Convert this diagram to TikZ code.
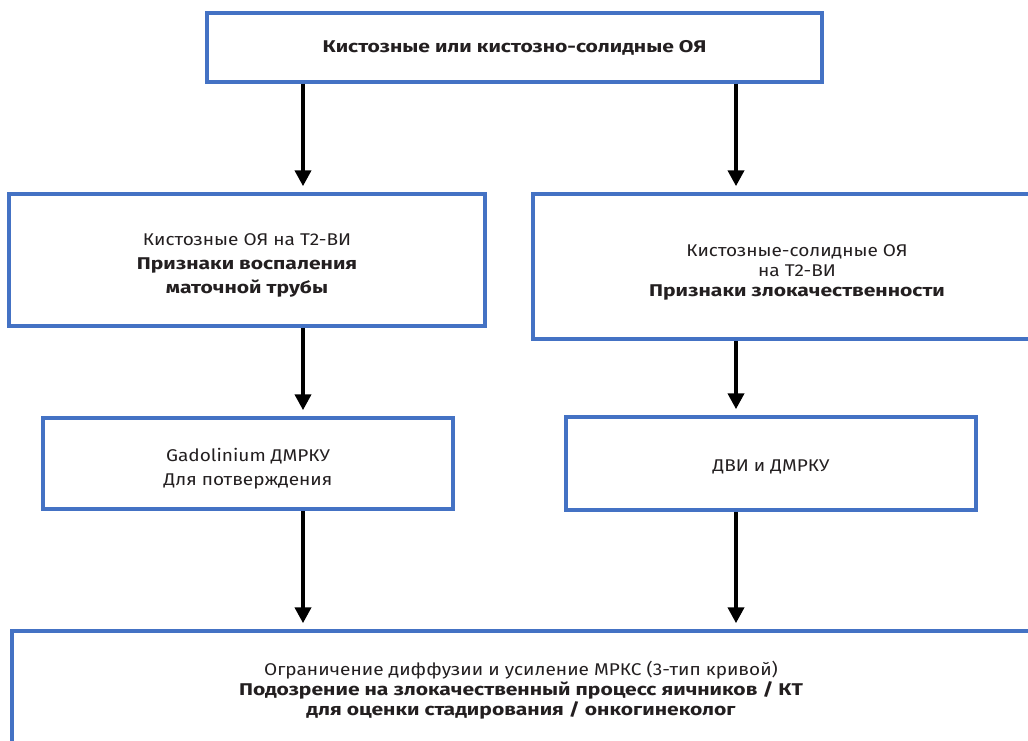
\documentclass[tikz,border=0pt]{standalone}
\usepackage{fontspec}
\setmainfont{Fira Sans}[FakeStretch=1.12, BoldFeatures={FakeStretch=1.24}]
\usetikzlibrary{arrows.meta}
\definecolor{boxblue}{HTML}{4472C4}
\definecolor{txt}{HTML}{231F20}
\newcommand\tstrut[1]{\rule{0pt}{#1}}
\tikzset{
  box/.style={draw=boxblue, line width=3.5pt, fill=white, rectangle, inner sep=0pt,
    align=center, text=txt, font=\fontsize{17}{24}\selectfont},
  arr/.style={line width=4pt, -{Triangle[width=16pt,length=16pt]}, shorten >=6pt, black}
}
\begin{document}
\begin{tikzpicture}[x=1pt,y=-1pt]
\useasboundingbox (0,0) rectangle (1028,741);
\clip (0,0) rectangle (1028,741);
\fill[white] (0,0) rectangle (1028,741);
\node[box, minimum width=615pt, minimum height=69pt] (top) at (514.5,47.5) {\textbf{Кистозные или кистозно-солидные ОЯ}};
\node[box, minimum width=476pt, minimum height=132pt] (L1) at (247,260) {\tstrut{22pt}Кистозные ОЯ на Т2-ВИ\\ \textbf{Признаки воспаления}\\ \textbf{маточной трубы}};
\node[box, minimum width=528pt, minimum height=145pt, font=\fontsize{17}{20}\selectfont] (R1) at (797,266.5) {\tstrut{24pt}Кистозные-солидные ОЯ\\ на Т2-ВИ\\ \textbf{Признаки злокачественности}};
\node[box, minimum width=410pt, minimum height=91pt] (L2) at (248,463.5) {\tstrut{24pt}Gadolinium ДМРКУ\\ Для потверждения};
\node[box, minimum width=410pt, minimum height=93pt] (R2) at (771,463.5) {\tstrut{18pt}ДВИ и ДМРКУ};
\node[box, minimum width=1018pt, minimum height=119pt, font=\fontsize{17}{20}\selectfont] (bot) at (521,690.5) {Ограничение диффузии и усиление МРКС (3-тип кривой)\\ \textbf{Подозрение на злокачественный процесс яичников / КТ}\\ \textbf{для оценки стадирования / онкогинеколог}};
\coordinate (xL) at (303,0);
\coordinate (xR) at (736,0);
\draw[arr] (top.south -| xL) -- (L1.north -| xL);
\draw[arr] (top.south -| xR) -- (R1.north -| xR);
\draw[arr] (L1.south -| xL) -- (L2.north -| xL);
\draw[arr] (R1.south -| xR) -- (R2.north -| xR);
\draw[arr] (L2.south -| xL) -- (bot.north -| xL);
\draw[arr] (R2.south -| xR) -- (bot.north -| xR);
\end{tikzpicture}
\end{document}
